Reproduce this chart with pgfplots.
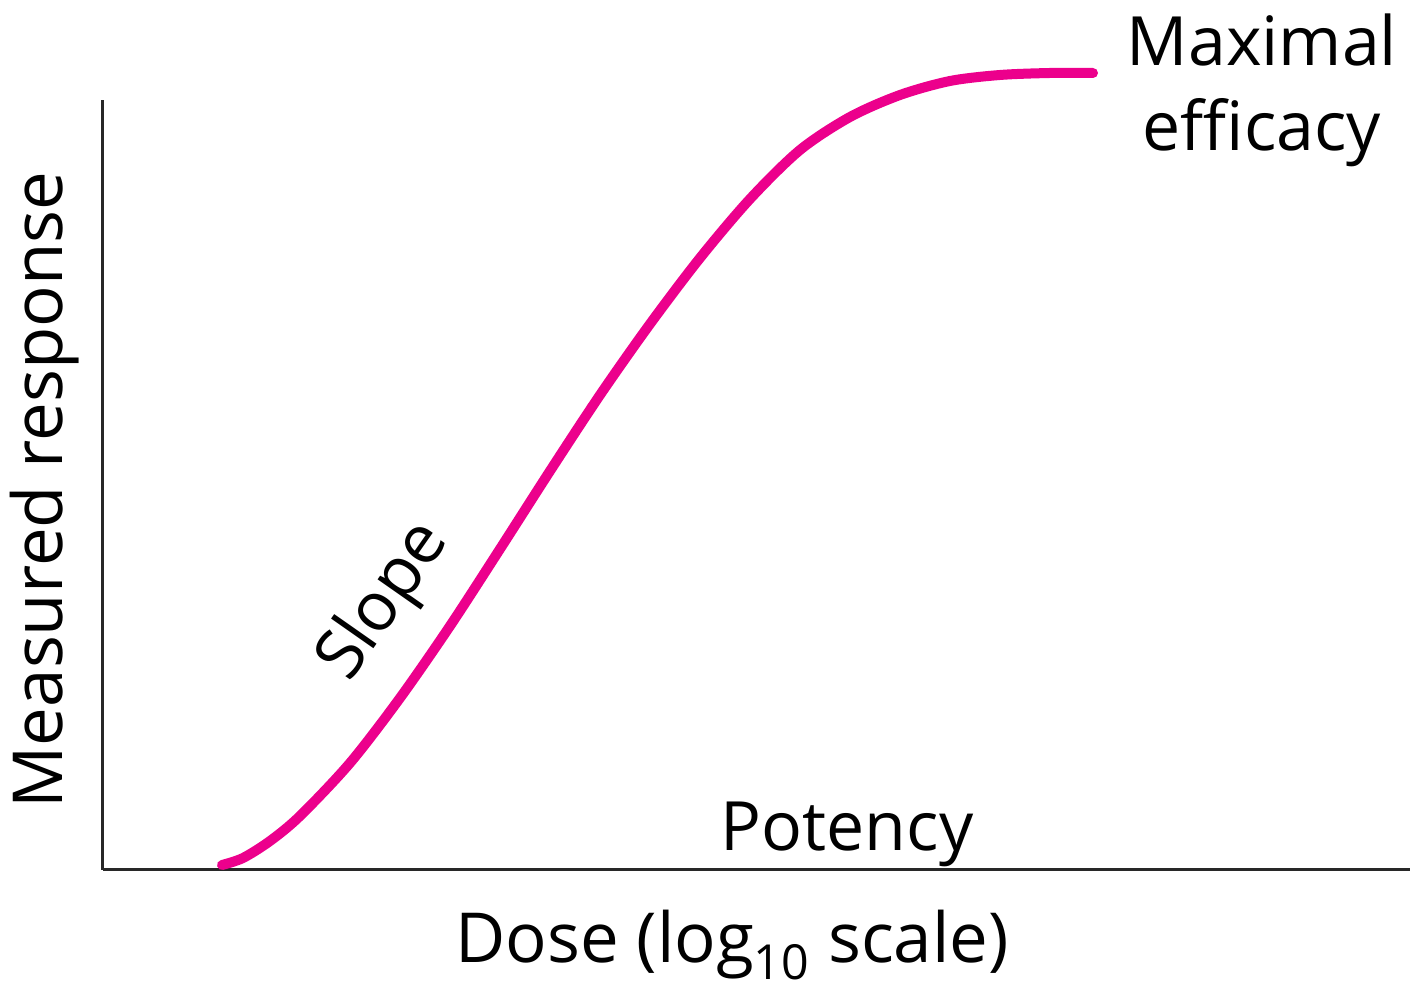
\documentclass[border=0pt]{standalone}
\usepackage{pgfplots}
\pgfplotsset{compat=1.18}
\usepackage{fontspec}
\setmainfont{Open Sans}
\definecolor{curvemag}{RGB}{236,0,140}
\definecolor{axisgray}{RGB}{40,40,40}
\begin{document}
\begin{tikzpicture}
\useasboundingbox (-51.5pt,-60pt) rectangle (655.5pt,435pt);
\begin{axis}[
  at={(0pt,0pt)}, anchor=origin,
  scale only axis,
  width=653.5pt, height=385pt,
  xmin=0, xmax=1307, ymin=0, ymax=770,
  axis x line=bottom, axis y line=left,
  axis line style={-, line width=1.5pt, color=axisgray},
  xtick=\empty, ytick=\empty,
  clip=false,
]
\addplot[color=curvemag, line width=5pt, smooth, line cap=round] coordinates {
(119,5) (140,12) (167,29) (197,54) (247,107) (297,172) (347,244) (397,321) (447,399)
(497,475) (547,546) (597,612) (647,671) (697,720) (747,753) (797,775)
(847,789) (897,795) (947,797) (990,797)
};
\node[font=\fontsize{34}{42.5}\selectfont, align=center] at (axis cs:1159,780) {Maximal\\efficacy};
\node[font=\fontsize{34}{42.5}\selectfont] at (axis cs:744,36) {Potency};
\node[font=\fontsize{34}{42.5}\selectfont, rotate=55] at (axis cs:282,268) {Slope};
\node[font=\fontsize{34.5}{42.5}\selectfont, rotate=90] at (axis cs:-58,380) {Measured response};
\node[font=\fontsize{34.5}{42.5}\selectfont] at (axis cs:629,-75) {Dose (log\textsubscript{10} scale)};
\end{axis}
\end{tikzpicture}
\end{document}
